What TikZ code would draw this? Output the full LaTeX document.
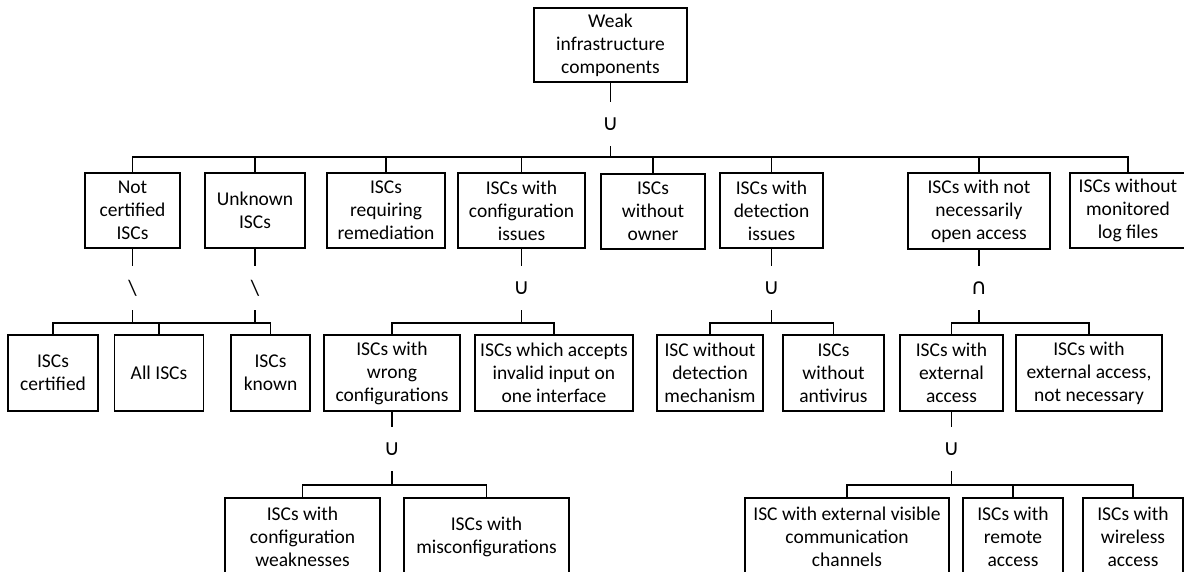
\documentclass[tikz,border=0pt]{standalone}
\usepackage{fontspec}
\setmainfont{Carlito}
\newfontfamily\opsymfont{DejaVu Sans}
\usetikzlibrary{calc}
\begin{document}
\begin{tikzpicture}[x=1pt,y=-1pt,
  box/.style={draw,line width=1.8pt,inner sep=0pt,align=center,
    font=\fontsize{19.5}{23}\selectfont},
  op/.style={inner sep=0pt,minimum height=44pt,font=\fontsize{22}{23}\selectfont},
  link/.style={line width=1.8pt}]
\clip (0,0) rectangle (1184,571);

% root
\node[box,minimum width=153pt,minimum height=74pt] (root) at (610.5,45) {Weak\\infrastructure\\components};

% first level
\node[box,minimum width=95pt, minimum height=75pt] (nc)  at (132.5,210.5) {Not\\certified\\ISCs};
\node[box,minimum width=100pt,minimum height=75pt] (unk) at (255,210.5) {Unknown\\ISCs};
\node[box,minimum width=118pt,minimum height=75pt] (rem) at (386,210.5) {ISCs\\requiring\\remediation};
\node[box,minimum width=127pt,minimum height=75pt] (cfg) at (521.5,210.5) {ISCs with\\configuration\\issues};
\node[box,minimum width=104pt,minimum height=75pt] (own) at (653,211.5) {ISCs\\without\\owner};
\node[box,minimum width=103pt,minimum height=75pt] (det) at (771.5,210.5) {ISCs with\\detection\\issues};
\node[box,minimum width=142pt,minimum height=76pt] (nec) at (979,211) {ISCs with not\\necessarily\\open access};
\node[box,minimum width=116pt,minimum height=75pt] (log) at (1128,210.5) {ISCs without\\monitored\\log files};

% second level
\node[box,minimum width=90pt, minimum height=76pt] (cert)  at (53,373) {ISCs\\certified};
\node[box,minimum width=89pt, minimum height=76pt] (all)   at (159,373) {All ISCs};
\node[box,minimum width=79pt, minimum height=76pt] (known) at (270.5,373) {ISCs\\known};
\node[box,minimum width=136pt,minimum height=76pt] (wrong) at (392,373) {ISCs with\\wrong\\configurations};
\node[box,minimum width=158pt,minimum height=76pt] (inv)   at (554,373) {ISCs which accepts\\invalid input on\\one interface};
\node[box,minimum width=106pt,minimum height=76pt] (nodet) at (710,373) {ISC without\\detection\\mechanism};
\node[box,minimum width=101pt,minimum height=76pt] (av)    at (833.5,373) {ISCs\\without\\antivirus};
\node[box,minimum width=103pt,minimum height=76pt] (ext)   at (951.5,373) {ISCs with\\external\\access};
\node[box,minimum width=146pt,minimum height=76pt] (extnn) at (1089,373) {ISCs with\\external access,\\not necessary};

% third level (runs past the lower edge)
\node[box,minimum width=155pt,minimum height=78pt] (weak) at (302.5,537) {ISCs with\\configuration\\weaknesses};
\node[box,minimum width=165pt,minimum height=78pt] (mis)  at (486.5,537) {ISCs with\\misconfigurations};
\node[box,minimum width=204pt,minimum height=78pt] (vis)  at (847,537) {ISC with external visible\\communication\\channels};
\node[box,minimum width=100pt,minimum height=78pt] (rac)  at (1013,537) {ISCs with\\remote\\access};
\node[box,minimum width=100pt,minimum height=78pt] (wac)  at (1133,537) {ISCs with\\wireless\\access};

% set operators
\node[op] (o0)  at (610.5,124) {\opsymfont ∪};
\node[op] (onc) at (132.5,288) {\textbackslash};
\node[op] (ouk) at (255,288) {\textbackslash};
\node[op] (ocf) at (521.5,288) {\opsymfont ∪};
\node[op] (odt) at (771.5,288) {\opsymfont ∪};
\node[op] (onn) at (979,288) {\opsymfont ∩};
\node[op] (owr) at (392,449) {\opsymfont ∪};
\node[op] (oex) at (951.5,449) {\opsymfont ∪};

% bus points below the operators
\coordinate (b0)  at ($(o0.south)+(0,11)$);
\coordinate (bnc) at ($(onc.south)+(0,13)$);
\coordinate (buk) at ($(ouk.south)+(0,13)$);
\coordinate (bcf) at ($(ocf.south)+(0,13)$);
\coordinate (bdt) at ($(odt.south)+(0,13)$);
\coordinate (bnn) at ($(onn.south)+(0,13)$);
\coordinate (bwr) at ($(owr.south)+(0,14)$);
\coordinate (bex) at ($(oex.south)+(0,14)$);

% root union
\draw[link] (root.south) -- (o0.north);
\draw[link] (o0.south) -- (b0);
\foreach \c in {nc,unk,rem,cfg,own,det,nec,log}
  \draw[link] (\c.north) |- (b0);

% set differences
\draw[link] (nc.south) -- (onc.north);
\draw[link] (onc.south) -- (bnc);
\draw[link] (unk.south) -- (ouk.north);
\draw[link] (ouk.south) -- (buk);
\draw[link] (cert.north) |- (bnc);
\draw[link] (all.north) |- (bnc);
\draw[link] (bnc) -- (buk);
\draw[link] (known.north) |- (buk);

% configuration issues
\draw[link] (cfg.south) -- (ocf.north);
\draw[link] (ocf.south) -- (bcf);
\draw[link] (wrong.north) |- (bcf);
\draw[link] (inv.north) |- (bcf);

% detection issues
\draw[link] (det.south) -- (odt.north);
\draw[link] (odt.south) -- (bdt);
\draw[link] (nodet.north) |- (bdt);
\draw[link] (av.north) |- (bdt);

% not necessarily open access
\draw[link] (nec.south) -- (onn.north);
\draw[link] (onn.south) -- (bnn);
\draw[link] (ext.north) |- (bnn);
\draw[link] (extnn.north) |- (bnn);

% wrong configurations
\draw[link] (wrong.south) -- (owr.north);
\draw[link] (owr.south) -- (bwr);
\draw[link] (weak.north) |- (bwr);
\draw[link] (mis.north) |- (bwr);

% external access
\draw[link] (ext.south) -- (oex.north);
\draw[link] (oex.south) -- (bex);
\draw[link] (vis.north) |- (bex);
\draw[link] (rac.north) |- (bex);
\draw[link] (wac.north) |- (bex);
\end{tikzpicture}
\end{document}
